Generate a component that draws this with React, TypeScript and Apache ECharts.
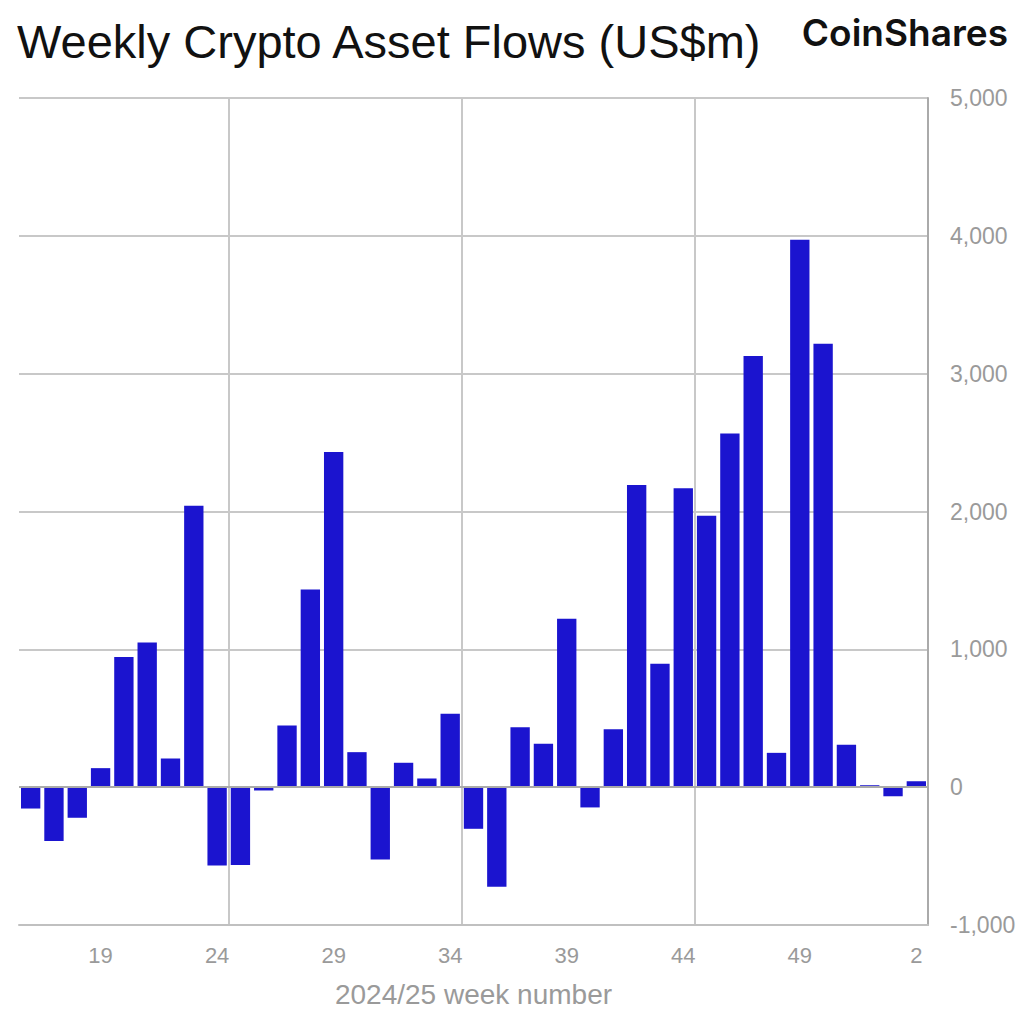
import React, { useEffect, useRef } from "react";
import * as echarts from "echarts";

const weeks: string[] = [
  "16", "17", "18", "19", "20", "21", "22", "23", "24", "25",
  "26", "27", "28", "29", "30", "31", "32", "33", "34", "35",
  "36", "37", "38", "39", "40", "41", "42", "43", "44", "45",
  "46", "47", "48", "49", "50", "51", "52", "1", "2",
];

const flows: number[] = [
  -155, -390, -222, 138, 944, 1049, 208, 2041, -569, -565,
  -24, 448, 1434, 2432, 254, -525, 177, 63, 533, -302,
  -723, 434, 315, 1222, -147, 421, 2193, 896, 2168, 1970,
  2566, 3128, 249, 3971, 3217, 307, 14, -66, 43,
];

const yTicks: number[] = [-1000, 0, 1000, 2000, 3000, 4000, 5000];
const labelIdx: number[] = [3, 8, 13, 18, 23, 28, 33, 38];
const splitIdx: number[] = [9, 19, 29];

const title = "Weekly Crypto Asset Flows (US$m)";
const brand = "CoinShares";
const xName = "2024/25 week number";

const FONT = "Liberation Sans, Arial, Helvetica, sans-serif";

export default function App() {
  const ref = useRef<HTMLDivElement>(null);
  useEffect(() => {
    if (!ref.current) return;
    const chart = echarts.init(ref.current, undefined, { renderer: "svg" });
    chart.setOption({
      animation: false,
      backgroundColor: "#ffffff",
      textStyle: { fontFamily: FONT },
      graphic: [
        {
          type: "text",
          left: 17,
          top: 18,
          style: {
            text: title,
            fontSize: 47,
            fontFamily: FONT,
            fill: "#111111",
          },
        },
        {
          type: "text",
          right: 16,
          top: 14,
          style: {
            text: brand,
            fontSize: 37,
            fontWeight: 600,
            fontFamily: "Inter, Liberation Sans, sans-serif",
            fill: "#111111",
          },
        },
      ],
      grid: { left: 19, right: 96, top: 98, bottom: 88, containLabel: false, outerBoundsMode: "none" },
      xAxis: {
        type: "category",
        data: weeks,
        boundaryGap: true,
        name: xName,
        nameLocation: "middle",
        nameGap: 55,
        nameTextStyle: { fontSize: 28, color: "#9a9a9a" },
        axisLine: { show: true, onZero: false, lineStyle: { color: "#c0c0c0", width: 2 } },
        axisTick: { show: false },
        axisLabel: {
          interval: (i: number) => labelIdx.indexOf(i) >= 0,
          fontSize: 22,
          color: "#9a9a9a",
          margin: 19,
        },
        splitLine: {
          show: true,
          interval: (i: number) => splitIdx.indexOf(i) >= 0,
          lineStyle: { color: "#c8c8c8", width: 2 },
        },
      },
      yAxis: {
        type: "value",
        position: "right",
        min: -1000,
        max: 5000,
        interval: 1000,
        axisLine: { show: true, lineStyle: { color: "#aaaaaa", width: 2 } },
        axisTick: { show: false },
        axisLabel: {
          align: "left",
          margin: 22,
          fontSize: 23,
          color: "#9a9a9a",
          formatter: (v: number) => (yTicks.indexOf(v) >= 0 ? v.toLocaleString("en-US") : ""),
        },
        splitLine: { show: true, lineStyle: { color: "#c8c8c8", width: 2 } },
      },
      series: [
        {
          type: "bar",
          data: flows,
          barCategoryGap: "17%",
          itemStyle: { color: "#1b14cf" },
          markLine: {
            silent: true,
            symbol: "none",
            label: { show: false },
            lineStyle: { color: "#aaaaaa", width: 2, type: "solid" },
            data: [{ yAxis: 0 }],
          },
        },
      ],
    });
    return () => chart.dispose();
  }, []);
  return <div ref={ref} style={{ width: 1024, height: 1013, margin: -8 }} />;
}
